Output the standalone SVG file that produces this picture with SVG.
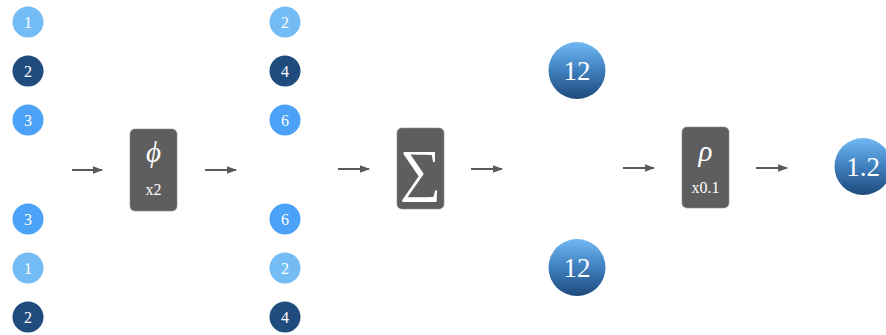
<svg xmlns="http://www.w3.org/2000/svg" width="886" height="335" viewBox="0 0 886 335">
<style>
.t{font-family:"Liberation Serif","Times New Roman",serif;fill:#fff;text-anchor:middle;dominant-baseline:central}
.s{font-size:16px}
.b{font-size:27px}
.c1{fill:#74bcf6}
.c2{fill:#1f4c7d}
.c3{fill:#4ba2f6}
.box{fill:#5e5e5e;stroke:#8a8a8a;stroke-width:0.6}
.big{fill:url(#g)}
.conn line{stroke:#5a5a5a;stroke-width:2}
</style>
<defs>
<linearGradient id="g" x1="0" y1="0" x2="0" y2="1">
<stop offset="0" stop-color="#70b9f4"/>
<stop offset="0.5" stop-color="#3f7fbe"/>
<stop offset="1" stop-color="#1e4a7c"/>
</linearGradient>
<marker id="ah" viewBox="0 0 10 10" refX="9" refY="5" markerWidth="5" markerHeight="5" orient="auto" markerUnits="strokeWidth">
<path d="M0,1.3 L10,5 L0,8.7 z" fill="#5a5a5a"/>
</marker>
</defs>
<g id="in-col">
<g id="in1"><circle class="c1" cx="28" cy="22" r="15.5"/><text class="t s" x="28" y="22">1</text></g>
<g id="in2"><circle class="c2" cx="28" cy="71" r="15.5"/><text class="t s" x="28" y="71">2</text></g>
<g id="in3"><circle class="c3" cx="28" cy="120" r="15.5"/><text class="t s" x="28" y="120">3</text></g>
<g id="in4"><circle class="c3" cx="28" cy="219" r="15.5"/><text class="t s" x="28" y="219">3</text></g>
<g id="in5"><circle class="c1" cx="28" cy="268" r="15.5"/><text class="t s" x="28" y="268">1</text></g>
<g id="in6"><circle class="c2" cx="28" cy="317" r="15.5"/><text class="t s" x="28" y="317">2</text></g>
</g>
<g id="phi">
<rect class="box" x="130" y="129" width="47" height="82" rx="5"/>
<text class="t" x="153.5" y="152" font-size="29" font-style="italic">ϕ</text>
<text class="t" x="153.5" y="189" font-size="16">x2</text>
</g>
<g id="mid-col">
<g id="m1"><circle class="c1" cx="285" cy="22" r="15.5"/><text class="t s" x="285" y="22">2</text></g>
<g id="m2"><circle class="c2" cx="285" cy="71" r="15.5"/><text class="t s" x="285" y="71">4</text></g>
<g id="m3"><circle class="c3" cx="285" cy="120" r="15.5"/><text class="t s" x="285" y="120">6</text></g>
<g id="m4"><circle class="c3" cx="285" cy="219" r="15.5"/><text class="t s" x="285" y="219">6</text></g>
<g id="m5"><circle class="c1" cx="285" cy="268" r="15.5"/><text class="t s" x="285" y="268">2</text></g>
<g id="m6"><circle class="c2" cx="285" cy="317" r="15.5"/><text class="t s" x="285" y="317">4</text></g>
</g>
<g id="sum">
<rect class="box" x="397" y="128" width="47" height="81" rx="5"/>
<text class="t" x="420.5" y="170" font-size="58">∑</text>
</g>
<g id="sums">
<g id="s1"><circle class="big" cx="577" cy="70.5" r="28.5"/><text class="t b" x="577" y="70.5">12</text></g>
<g id="s2"><circle class="big" cx="577" cy="267.5" r="28.5"/><text class="t b" x="577" y="267.5">12</text></g>
</g>
<g id="rho">
<rect class="box" x="682" y="127" width="47" height="81" rx="5"/>
<text class="t" x="705.5" y="151" font-size="29" font-style="italic">ρ</text>
<text class="t" x="705.5" y="187" font-size="16">x0.1</text>
</g>
<g id="out"><circle class="big" cx="863" cy="166.5" r="28.5"/><text class="t b" x="863" y="166.5">1.2</text></g>
<g class="conn" id="connectors">
<line x1="72" y1="170" x2="102" y2="170" marker-end="url(#ah)"/>
<line x1="205" y1="170" x2="236" y2="170" marker-end="url(#ah)"/>
<line x1="338" y1="169" x2="369" y2="169" marker-end="url(#ah)"/>
<line x1="471" y1="169" x2="502" y2="169" marker-end="url(#ah)"/>
<line x1="623" y1="168" x2="654" y2="168" marker-end="url(#ah)"/>
<line x1="756" y1="168" x2="787" y2="168" marker-end="url(#ah)"/>
</g>
</svg>
